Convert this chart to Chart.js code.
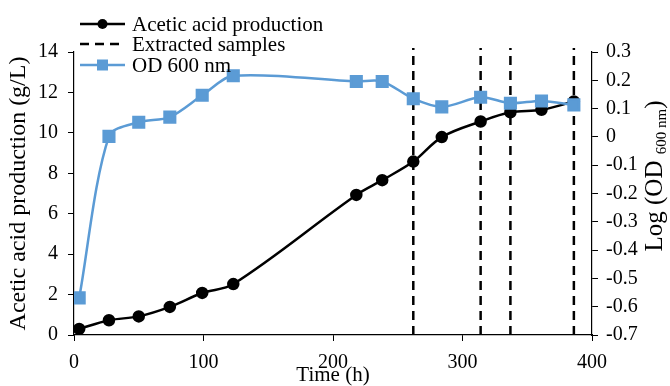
<!DOCTYPE html>
<html lang="en">
<head>
<meta charset="UTF-8" />
<title>Acetic acid production</title>
<script src="https://cdn.jsdelivr.net/npm/chart.js"></script>
<style>
    body { margin: 0; background: #fff; }
</style>
</head>
<body>
<canvas id="grafico" width="670" height="386"></canvas>
<script>
    // dados
    var tempo = [4, 27, 50, 74, 99, 123, 218, 238, 262, 284, 314, 337, 361, 386];
    var acido = [0.3, 0.73, 0.92, 1.39, 2.08, 2.52, 6.93, 7.66, 8.58, 9.79, 10.56, 11.02, 11.14, 11.55];
    var od = [-0.569, 0.002, 0.052, 0.07, 0.147, 0.216, 0.196, 0.196, 0.135, 0.106, 0.14, 0.119, 0.127, 0.113];
    var amostras = [262, 314, 337, 386];
    var azul = '#5B9BD5';
    var fonte = '"Liberation Serif", "Times New Roman", serif';

    var pontos_acido = tempo.map(function (t, i) { return { x: t, y: acido[i] } });
    var pontos_od = tempo.map(function (t, i) { return { x: t, y: od[i] } });
    var pontos_amostras = [];
    for (var i = 0; i < amostras.length; i++) {
        pontos_amostras.push({ x: amostras[i], y: 0 });
        pontos_amostras.push({ x: amostras[i], y: 14.2 });
        pontos_amostras.push({ x: amostras[i], y: null });
    }

    // titulo do eixo direito (com subscrito) e legenda
    const extras = {
        id: 'extras',
        afterDraw(chart) {
            const ctx = chart.ctx;
            ctx.save();
            ctx.fillStyle = '#000';
            ctx.textBaseline = 'middle';
            ctx.translate(655, 176);
            ctx.rotate(-Math.PI / 2);
            const grande = '25px ' + fonte, pequeno = '15px ' + fonte;
            ctx.font = grande;
            const w1 = ctx.measureText('Log (OD ').width;
            const w3 = ctx.measureText(')').width;
            ctx.font = pequeno;
            const w2 = ctx.measureText('600 nm').width;
            const x0 = -(w1 + w2 + w3) / 2;
            ctx.font = grande; ctx.fillText('Log (OD ', x0, 0);
            ctx.font = pequeno; ctx.fillText('600 nm', x0 + w1, 7);
            ctx.font = grande; ctx.fillText(')', x0 + w1 + w2, 0);
            ctx.restore();

            // legenda
            const itens = [
                { txt: 'Acetic acid production', cor: '#000', dash: [], marca: 'circle' },
                { txt: 'Extracted samples', cor: '#000', dash: [9, 6], marca: null },
                { txt: 'OD 600 nm', cor: azul, dash: [], marca: 'rect' }
            ];
            const ys = [24, 44, 65];
            ctx.save();
            ctx.font = '21px ' + fonte;
            ctx.textBaseline = 'middle';
            itens.forEach(function (it, k) {
                const y = ys[k];
                ctx.strokeStyle = it.cor;
                ctx.lineWidth = 2.5;
                ctx.setLineDash(it.dash);
                ctx.beginPath();
                ctx.moveTo(80, y);
                ctx.lineTo(125, y);
                ctx.stroke();
                ctx.setLineDash([]);
                ctx.fillStyle = it.cor;
                if (it.marca == 'circle') {
                    ctx.beginPath();
                    ctx.arc(102.5, y, 5, 0, Math.PI * 2);
                    ctx.fill();
                } else if (it.marca == 'rect') {
                    ctx.fillRect(97, y - 5.5, 11, 11);
                }
                ctx.fillStyle = '#000';
                ctx.fillText(it.txt, 132, y + 1);
            });
            ctx.restore();
        }
    };

    new Chart(document.getElementById('grafico'), {
        type: 'line',
        data: {
            datasets: [{
                label: 'OD 600 nm',
                data: pontos_od,
                yAxisID: 'y2',
                borderColor: azul,
                backgroundColor: azul,
                borderWidth: 2.5,
                pointStyle: 'rect',
                pointRadius: 7.5,
                tension: 0.3,
                order: 0
            }, {
                label: 'Acetic acid production',
                data: pontos_acido,
                yAxisID: 'y',
                borderColor: '#000',
                backgroundColor: '#000',
                borderWidth: 2.5,
                pointRadius: 5,
                tension: 0.35,
                order: 1
            }, {
                label: 'Extracted samples',
                data: pontos_amostras,
                yAxisID: 'y',
                borderColor: '#000',
                borderWidth: 2.5,
                borderDash: [9, 6],
                pointRadius: 0,
                spanGaps: false,
                tension: 0,
                clip: false,
                order: 2
            }]
        },
        options: {
            responsive: false,
            animation: false,
            devicePixelRatio: 1,
            layout: { padding: { top: 52, left: 0, right: 0, bottom: 0 } },
            plugins: { legend: { display: false }, tooltip: { enabled: false } },
            scales: {
                x: {
                    type: 'linear',
                    min: 0, max: 400,
                    ticks: { stepSize: 100, color: '#000', font: { family: fonte, size: 20 }, padding: 10, maxRotation: 0 },
                    grid: { drawOnChartArea: false, color: '#000', tickLength: 6 },
                    border: { color: '#000', width: 1.2 },
                    title: { display: true, text: 'Time (h)', color: '#000', font: { family: fonte, size: 21, lineHeight: 1 }, padding: { top: 0, bottom: 0 } },
                    afterFit: function (s) { s.height = 51 }
                },
                y: {
                    position: 'left',
                    min: 0, max: 14,
                    ticks: { stepSize: 2, color: '#000', font: { family: fonte, size: 20 }, padding: 10 },
                    grid: { drawOnChartArea: false, color: '#000', tickLength: 6 },
                    border: { color: '#000', width: 1.2 },
                    title: { display: true, text: 'Acetic acid production (g/L)', color: '#000', font: { family: fonte, size: 24 }, padding: { top: 4, bottom: 0 } },
                    afterFit: function (s) { s.width = 74 }
                },
                y2: {
                    position: 'right',
                    min: -0.7, max: 0.3,
                    ticks: {
                        stepSize: 0.1, color: '#000', font: { family: fonte, size: 20 }, padding: 8,
                        callback: function (v) { return String(Math.round(v * 10) / 10) }
                    },
                    grid: { drawOnChartArea: false, color: '#000', tickLength: 6 },
                    border: { color: '#000', width: 1.2 },
                    afterFit: function (s) { s.width = 78 }
                }
            }
        },
        plugins: [extras]
    });
</script>
</body>
</html>
